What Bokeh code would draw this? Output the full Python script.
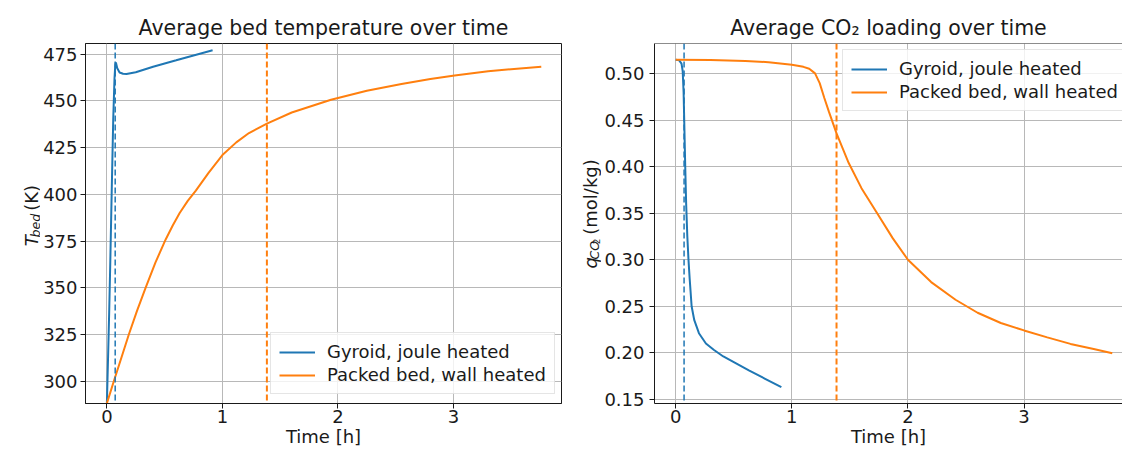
import math
from bokeh.plotting import figure
from bokeh.layouts import row
from bokeh.models import Span, FixedTicker, PrintfTickFormatter, Range1d
from bokeh.core.properties import value
from bokeh.embed import file_html
from bokeh.resources import INLINE

# ---------------- data ----------------
x_ticks = [0, 1, 2, 3]
t_ticks = [300, 325, 350, 375, 400, 425, 450, 475]
q_ticks = [0.15, 0.20, 0.25, 0.30, 0.35, 0.40, 0.45, 0.50]

series_names = ["Gyroid, joule heated", "Packed bed, wall heated"]
titles = ["Average bed temperature over time", "Average CO\u2082 loading over time"]
x_label = "Time [h]"

# Average bed temperature (K)
gyr_T_time = [0, 0.01, 0.02, 0.03, 0.043, 0.055, 0.066, 0.073, 0.078, 0.09, 0.11,
              0.14, 0.17, 0.25, 0.4, 0.6, 0.75, 0.915]
gyr_T = [288.15, 312, 337, 365, 405, 440, 462, 469.5, 470.6, 467.5, 465.2,
         464.5, 464.4, 465.3, 468.3, 471.7, 474.3, 477.1]

pb_T_time = [0, 0.06, 0.12, 0.19, 0.26, 0.335, 0.42, 0.51, 0.57, 0.63, 0.7, 0.77, 0.88,
             1.0, 1.12, 1.23, 1.385, 1.6, 1.94, 2.25, 2.55, 2.8, 3.01, 3.3, 3.55, 3.76]
pb_T = [288.15, 300, 311.5, 325, 337.5, 350, 363.5, 376, 383.3, 390, 396.5, 402, 411.5,
        421, 427.8, 432.8, 437.8, 443.8, 450.6, 455.4, 459, 461.7, 463.6, 465.8,
        467.2, 468.3]

# Average CO2 loading (mol/kg)
gyr_q_time = [0, 0.03, 0.05, 0.06, 0.068, 0.075, 0.082, 0.09, 0.1, 0.11, 0.12, 0.137,
              0.16, 0.2, 0.26, 0.33, 0.41, 0.52, 0.63, 0.77, 0.91]
gyr_q = [0.515, 0.5145, 0.511, 0.503, 0.48, 0.44, 0.40, 0.36, 0.325, 0.30, 0.28, 0.25,
         0.235, 0.221, 0.21, 0.203, 0.196, 0.1885, 0.181, 0.172, 0.163]

pb_q_time = [0, 0.3, 0.6, 0.8, 1.0, 1.1, 1.15, 1.2, 1.24, 1.28, 1.32, 1.385, 1.49, 1.6,
             1.735, 1.87, 2.0, 2.2, 2.41, 2.6, 2.8, 3.0, 3.2, 3.4, 3.6, 3.76]
pb_q = [0.515, 0.5148, 0.5138, 0.5125, 0.5097, 0.5075, 0.5055, 0.5005, 0.490, 0.474,
        0.459, 0.436, 0.404, 0.377, 0.35, 0.323, 0.30, 0.276, 0.257, 0.243, 0.232,
        0.224, 0.2165, 0.2095, 0.204, 0.1995]

# end-of-heating markers (h)
gyr_end = 0.072
pb_end = 1.385

# ---------------- style ----------------
FONT = "DejaVu Sans"
BLUE = "#1f77b4"
ORANGE = "#ff7f0e"
INK = "#1a1a1a"
FS = "18px"
H = 451
A = math.pi / 2


def style(p, yticks, fmt=None, ystand=3):
    xt = FixedTicker(ticks=x_ticks)
    yt = FixedTicker(ticks=yticks)
    p.xaxis.ticker = xt
    p.yaxis.ticker = yt
    p.xgrid.ticker = xt
    p.ygrid.ticker = yt
    if fmt is not None:
        p.yaxis.formatter = fmt
    for ax in (p.xaxis, p.yaxis):
        ax.major_label_text_font = FONT
        ax.major_label_text_font_size = FS
        ax.major_label_text_color = INK
        ax.axis_line_color = INK
        ax.axis_line_width = 1
        ax.major_tick_line_color = INK
        ax.major_tick_out = 5
        ax.major_tick_in = 0
        ax.minor_tick_line_color = None
    p.xaxis.major_label_standoff = 1
    p.yaxis.major_label_standoff = ystand
    p.xaxis.axis_label = x_label
    p.xaxis.axis_label_text_font = FONT
    p.xaxis.axis_label_text_font_size = FS
    p.xaxis.axis_label_text_font_style = "normal"
    p.xaxis.axis_label_text_color = INK
    p.xaxis.axis_label_standoff = 0
    p.grid.grid_line_color = "#b8b8b8"
    p.grid.grid_line_width = 1
    p.title.text_font = FONT
    p.title.text_font_size = "20.5px"
    p.title.text_font_style = "normal"
    p.title.text_color = INK
    p.title.align = "center"
    p.title.standoff = 8


def legend_style(lg, pad, gw, standoff):
    lg.label_text_font = FONT
    lg.label_text_font_size = FS
    lg.label_text_color = INK
    lg.glyph_width = gw
    lg.glyph_height = 20
    lg.label_height = 20
    lg.label_standoff = standoff
    lg.padding = pad
    lg.spacing = 2
    lg.border_line_color = "#cccccc"
    lg.border_line_width = 1
    lg.background_fill_alpha = 0.8


def strip(w, h):
    s = figure(width=w, height=h, x_range=Range1d(0, w), y_range=Range1d(0, h),
               x_axis_type=None, y_axis_type=None, output_backend="svg",
               toolbar_location=None, min_border_left=0, min_border_right=0,
               min_border_top=0, min_border_bottom=0)
    s.outline_line_color = None
    s.grid.visible = False
    return s


def txt(s, x, y, t, size=FS, style_="normal", angle=0.0, align="left"):
    s.text(x=[x], y=[y], text=[t], angle=angle, text_align=align,
           text_baseline="alphabetic", text_font=value(FONT),
           text_font_size=value(size), text_font_style=style_, text_color=INK)


# ---------------- left: temperature ----------------
# page x 40..570, frame 83..561, y 41..403
p1 = figure(width=530, height=H, x_range=Range1d(-0.185, 3.935),
            y_range=Range1d(288.1, 480.7), output_backend="svg", title=titles[0],
            toolbar_location=None, min_border_left=43, min_border_right=9,
            min_border_top=41, min_border_bottom=48)
style(p1, t_ticks)
p1.outline_line_color = INK
p1.outline_line_width = 1

p1.add_layout(Span(location=gyr_end, dimension="height", line_color=BLUE,
                   line_width=1.5, line_dash="6 3"))
p1.add_layout(Span(location=pb_end, dimension="height", line_color=ORANGE,
                   line_width=2, line_dash="6 3"))
p1.line(gyr_T_time, gyr_T, line_color=BLUE, line_width=2, legend_label=series_names[0])
p1.line(pb_T_time, pb_T, line_color=ORANGE, line_width=2, legend_label=series_names[1])

lg1 = p1.legend[0]
legend_style(lg1, 8, 36, 12)
lg1.location = (185, 9)

# y-label of the left plot: T_bed (K)   (strip spans page x 0..40)
yl1 = strip(40, H)
txt(yl1, 31, 197, "T", style_="italic", angle=A)
txt(yl1, 34.5, 208, "bed", size="12.6px", style_="italic", angle=A)
txt(yl1, 31, 241.5, "(K)", angle=A)

# ---------------- right: CO2 loading ----------------
# page x 601..1122, frame 652..1122, y 43..403
p2 = figure(width=521, height=H, x_range=Range1d(-0.1827, 3.848),
            y_range=Range1d(0.1454, 0.5326), output_backend="svg", title=titles[1],
            toolbar_location=None, min_border_left=51, min_border_right=0,
            min_border_top=43, min_border_bottom=48)
style(p2, q_ticks, PrintfTickFormatter(format="%.2f"), ystand=5)
p2.outline_line_color = None
p2.add_layout(Span(location=0.5326, dimension="width", line_color=INK, line_width=1))

p2.add_layout(Span(location=gyr_end, dimension="height", line_color=BLUE,
                   line_width=1.5, line_dash="6 3"))
p2.add_layout(Span(location=pb_end, dimension="height", line_color=ORANGE,
                   line_width=2, line_dash="6 3"))
p2.line(gyr_q_time, gyr_q, line_color=BLUE, line_width=2, legend_label=series_names[0])
p2.line(pb_q_time, pb_q, line_color=ORANGE, line_width=2, legend_label=series_names[1])

lg2 = p2.legend[0]
legend_style(lg2, 8, 36, 12)
lg2.location = (188, 292)

# y-label of the right plot: q_CO2 (mol/kg)   (strip spans page x 570..601)
yl2 = strip(31, H)
txt(yl2, 20, 169, "q", style_="italic", angle=A)
txt(yl2, 23.5, 180.4, "CO", size="12.6px", style_="italic", angle=A)
txt(yl2, 26, 199.6, "2", size="8.8px", angle=A)
txt(yl2, 20, 211.4, "(mol/kg)", angle=A)

layout = row(yl1, p1, yl2, p2)
open("out.html", "w").write(file_html(layout, INLINE))
